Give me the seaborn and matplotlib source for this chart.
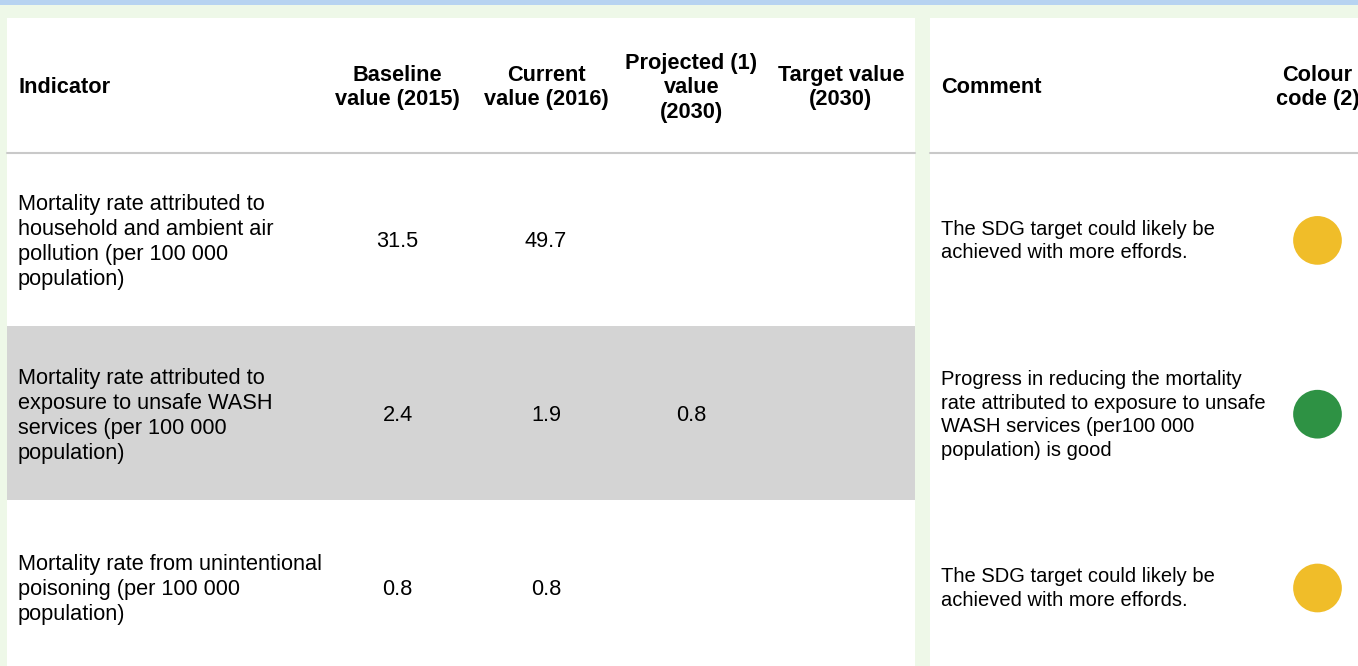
import numpy as np
import pandas as pd
import matplotlib
matplotlib.use("Agg")
import matplotlib.pyplot as plt
import seaborn as sns

# table content
headers_left = ["Indicator", "Baseline\nvalue (2015)", "Current\nvalue (2016)",
                "Projected (1)\nvalue\n(2030)", "Target value\n(2030)"]
headers_right = ["Comment", "Colour\ncode (2)"]

indicators = [
    "Mortality rate attributed to\nhousehold and ambient air\npollution (per 100 000\npopulation)",
    "Mortality rate attributed to\nexposure to unsafe WASH\nservices (per 100 000\npopulation)",
    "Mortality rate from unintentional\npoisoning (per 100 000\npopulation)",
]
baseline_2015 = [31.5, 2.4, 0.8]
current_2016 = [49.7, 1.9, 0.8]
projected_2030 = [None, 0.8, None]
target_2030 = [None, None, None]
comments = [
    "The SDG target could likely be\nachieved with more effords.",
    "Progress in reducing the mortality\nrate attributed to exposure to unsafe\nWASH services (per100 000\npopulation) is good",
    "The SDG target could likely be\nachieved with more effords.",
]
status = ["amber", "green", "amber"]
status_colors = {"amber": "#f0bd29", "green": "#2e9244"}

# layout (pixels)
W, H = 1358, 666
BG = "#eef8e8"
TXT = "#000000"
left_x0, left_x1 = 7, 915
right_x0, right_x1 = 930, 1358
header_top, header_bot = 18, 152.5
row_h = 173.8
value_cols = [397.5, 546, 691.5, 841]
comment_x = 941
colour_x = 1317.5

sns.set_style("white")
plt.rcParams["font.family"] = ["Liberation Sans", "DejaVu Sans"]

fig = plt.figure(figsize=(W / 100, H / 100), dpi=100, facecolor=BG)
ax = fig.add_axes([0, 0, 1, 1])


def block(x, yc, text, size, step, ha="left", weight="normal"):
    lines = text.split("\n")
    n = len(lines)
    px = size * 100 / 72
    for i, line in enumerate(lines):
        y = yc + (i - (n - 1) / 2) * step + 0.358 * px
        ax.text(x, y, line, ha=ha, va="baseline", fontsize=size,
                fontweight=weight, color=TXT)


# backgrounds
ax.add_patch(plt.Rectangle((0, 0), W, 5, color="#b7d3f1", lw=0))
ax.add_patch(plt.Rectangle((left_x0, header_top), left_x1 - left_x0, H, color="white", lw=0))
ax.add_patch(plt.Rectangle((right_x0, header_top), right_x1 - right_x0, H, color="white", lw=0))
ax.add_patch(plt.Rectangle((left_x0, header_bot + row_h), left_x1 - left_x0, row_h,
                           color="#d4d4d4", lw=0))
ax.plot([left_x0, left_x1], [header_bot, header_bot], color="#c9c9c9", lw=1.5)
ax.plot([right_x0, right_x1], [header_bot, header_bot], color="#c9c9c9", lw=1.5)

# header
hy = (header_top + header_bot) / 2
block(18, hy, headers_left[0], 15.7, 24.5, weight="bold")
for cx, h in zip(value_cols, headers_left[1:]):
    block(cx, hy, h, 15.7, 24.5, ha="center", weight="bold")
block(comment_x, hy, headers_right[0], 15.7, 24.5, weight="bold")
block(colour_x, hy, headers_right[1], 15.7, 24.5, ha="center", weight="bold")

# rows
row_centers = header_bot + row_h * (np.arange(len(indicators)) + 0.5)
cols = [baseline_2015, current_2016, projected_2030, target_2030]
for i, yc in enumerate(row_centers):
    block(18, yc, indicators[i], 15.7, 25)
    for cx, col in zip(value_cols, cols):
        if col[i] is not None:
            block(cx, yc, f"{col[i]:.1f}", 15.7, 25, ha="center")
    block(comment_x, yc, comments[i], 14.5, 23.5)

# colour code markers
df = pd.DataFrame({"x": [colour_x] * len(status), "y": row_centers + 1, "status": status})
sns.scatterplot(data=df, x="x", y="y", hue="status", palette=status_colors,
                s=1230, linewidth=0, legend=False, ax=ax, zorder=5)

ax.set_xlim(0, W)
ax.set_ylim(H, 0)
ax.axis("off")
fig.savefig("out.png", dpi=100, facecolor=BG)
